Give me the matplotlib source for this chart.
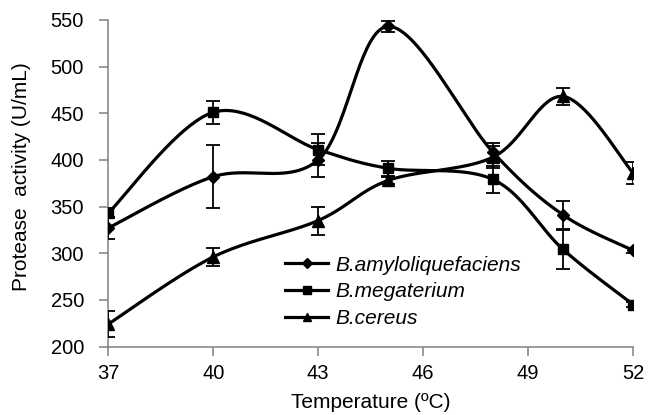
import numpy as np
import matplotlib
matplotlib.use("Agg")
import matplotlib.pyplot as plt

temps = [37, 40, 43, 45, 48, 50, 52]
amylo = [327, 382, 400, 543, 408, 341, 303]
amylo_err = [12, 34, 18, 6, 10, 15, 3]
mega = [343, 451, 411, 391, 379, 304, 245]
mega_err = [5, 12, 17, 8, 14, 21, 3]
cereus = [224, 296, 335, 378, 403, 468, 386]
cereus_err = [14, 10, 15, 4, 12, 9, 12]

labels = ["B.amyloliquefaciens", "B.megaterium", "B.cereus"]
markers = ["D", "s", "^"]
msizes = [6.5, 7.5, 8.5]

plt.rcParams['font.family'] = ['Liberation Sans', 'DejaVu Sans']


def smooth(x, y, n=40):
    x = np.asarray(x, float)
    y = np.asarray(y, float)
    px = np.concatenate([[x[0]], x, [x[-1]]])
    py = np.concatenate([[y[0]], y, [y[-1]]])
    xs, ys = [], []
    t = np.linspace(0, 1, n)
    for i in range(1, len(px) - 2):
        p0x, p0y = px[i], py[i]
        p3x, p3y = px[i + 1], py[i + 1]
        c1x = p0x + (px[i + 1] - px[i - 1]) / 6
        c1y = p0y + (py[i + 1] - py[i - 1]) / 6
        c2x = p3x - (px[i + 2] - px[i]) / 6
        c2y = p3y - (py[i + 2] - py[i]) / 6
        bx = (1 - t) ** 3 * p0x + 3 * (1 - t) ** 2 * t * c1x + 3 * (1 - t) * t ** 2 * c2x + t ** 3 * p3x
        by = (1 - t) ** 3 * p0y + 3 * (1 - t) ** 2 * t * c1y + 3 * (1 - t) * t ** 2 * c2y + t ** 3 * p3y
        xs.append(bx)
        ys.append(by)
    return np.concatenate(xs), np.concatenate(ys)


fig = plt.figure(figsize=(6.48, 4.15), dpi=100)
ax = fig.add_axes([0.167, 0.165, 0.810, 0.787])

series = [(amylo, amylo_err), (mega, mega_err), (cereus, cereus_err)]
for (vals, errs), lab, mk, ms in zip(series, labels, markers, msizes):
    sx, sy = smooth(temps, vals)
    ax.plot(sx, sy, color='black', lw=2.3, zorder=2)
    ax.errorbar(temps, vals, yerr=errs, fmt='none', ecolor='black', elinewidth=1.3,
                capsize=5, capthick=1.3, zorder=3)
    ax.plot(temps, vals, linestyle='none', marker=mk, color='black', markersize=ms, zorder=4)
    ax.plot([], [], color='black', lw=2.3, marker=mk, markersize=ms * 0.75, label=lab)

ax.set_xlim(37, 52)
ax.set_ylim(200, 550)
ax.set_xticks([37, 40, 43, 46, 49, 52])
ax.set_yticks(range(200, 551, 50))
for s in ['top', 'right']:
    ax.spines[s].set_visible(False)
for s in ['left', 'bottom']:
    ax.spines[s].set_color('#808080')
    ax.spines[s].set_linewidth(1.1)
ax.tick_params(axis='both', colors='#808080', labelcolor='black', labelsize=14.5,
               direction='out', length=6.5, width=1.1)
ax.tick_params(axis='y', pad=11)
ax.tick_params(axis='x', pad=6)
ax.set_xlabel("Temperature (ºC)", fontsize=15, labelpad=7)
ax.set_ylabel("Protease  activity (U/mL)", fontsize=15, labelpad=14)
ax.yaxis.label.set_y(0.52)

leg = ax.legend(loc='center left', bbox_to_anchor=(0.337, 0.167), frameon=False,
                prop={'style': 'italic', 'size': 15}, handlelength=2.07,
                handletextpad=0.33, labelspacing=0.38, borderaxespad=0, borderpad=0)

fig.savefig("out.png", dpi=100)
